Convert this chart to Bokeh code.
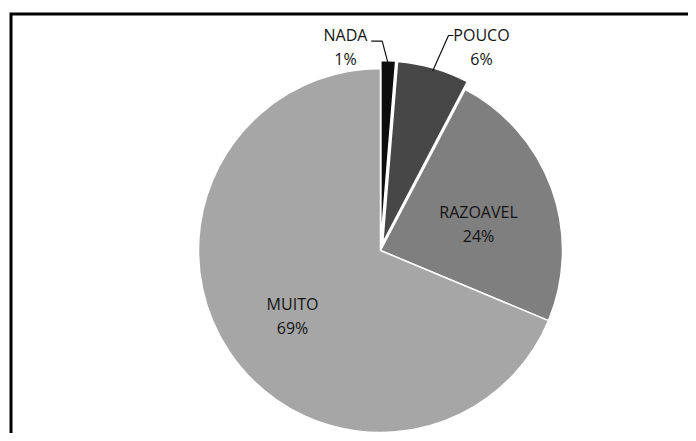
import numpy as np
from bokeh.plotting import figure
from bokeh.models import Range1d
from bokeh.core.properties import value
from bokeh.embed import file_html
from bokeh.resources import INLINE

# ---- data ----
categories = ["NADA", "POUCO", "RAZOAVEL", "MUITO"]
values = [1.3, 6.4, 23.6, 68.7]
pct_labels = ["1%", "6%", "24%", "69%"]
colors = ["#0d0d0d", "#474747", "#7f7f7f", "#a6a6a6"]

# ---- layout / style ----
W, H = 688, 433
CX, CY, R = 380, 183, 182
explode = np.array([8, 8, 0, 0])
FONT = value("Open Sans")
FS = "16px"
TXT = "#141414"

p = figure(width=W, height=H, x_range=Range1d(0, W), y_range=Range1d(0, H),
           output_backend="svg", toolbar_location=None, min_border=0)
p.axis.visible = False
p.grid.visible = False
p.outline_line_color = None
p.background_fill_color = "white"
p.border_fill_color = "white"

frac = np.array(values) / sum(values)
ends = np.cumsum(frac)
starts = ends - frac
start_ang = np.pi / 2 - ends * 2 * np.pi
end_ang = np.pi / 2 - starts * 2 * np.pi
mid = (start_ang + end_ang) / 2
xs = CX + explode * np.cos(mid)
ys = CY + explode * np.sin(mid)

p.wedge(x=xs, y=ys, radius=R, start_angle=start_ang, end_angle=end_ang,
        fill_color=colors, line_color="white", line_width=1.5)


def label(i, lx, ly):
    p.text(x=[lx], y=[ly], text=[categories[i]], y_offset=-12, text_align="center",
           text_baseline="middle", text_font=FONT, text_font_size=FS, text_color=TXT)
    p.text(x=[lx], y=[ly], text=[pct_labels[i]], y_offset=12, text_align="center",
           text_baseline="middle", text_font=FONT, text_font_size=FS, text_color=TXT)


# inside labels, offsets from pie centre
inside_off = {2: (98, 26.5), 3: (-88, -65)}
for i, (dx, dy) in inside_off.items():
    label(i, CX + dx, CY + dy)

# outside labels with leader lines: (label x, label y, elbow start x, elbow x, elbow y)
outside = {0: (345, 386.5, 370.7, 381.7, 392.3),
           1: (481, 386.5, 453, 448, 398)}
for i, (lx, ly, x0, x1, ey) in outside.items():
    label(i, lx, ly)
    tipx = CX + (R + explode[i] - 3) * np.cos(mid[i])
    tipy = CY + (R + explode[i] - 3) * np.sin(mid[i])
    p.line(x=[x0, x1, tipx], y=[ey, ey, tipy], line_color="#111111", line_width=1.2)

# frame (top and left edges of the chart box, the rest is cut off)
p.line(x=[10.5, 10.5, W], y=[0, 419.5, 419.5], line_color="black", line_width=3,
       line_join="miter")

open("out.html", "w").write(file_html(p, INLINE))
